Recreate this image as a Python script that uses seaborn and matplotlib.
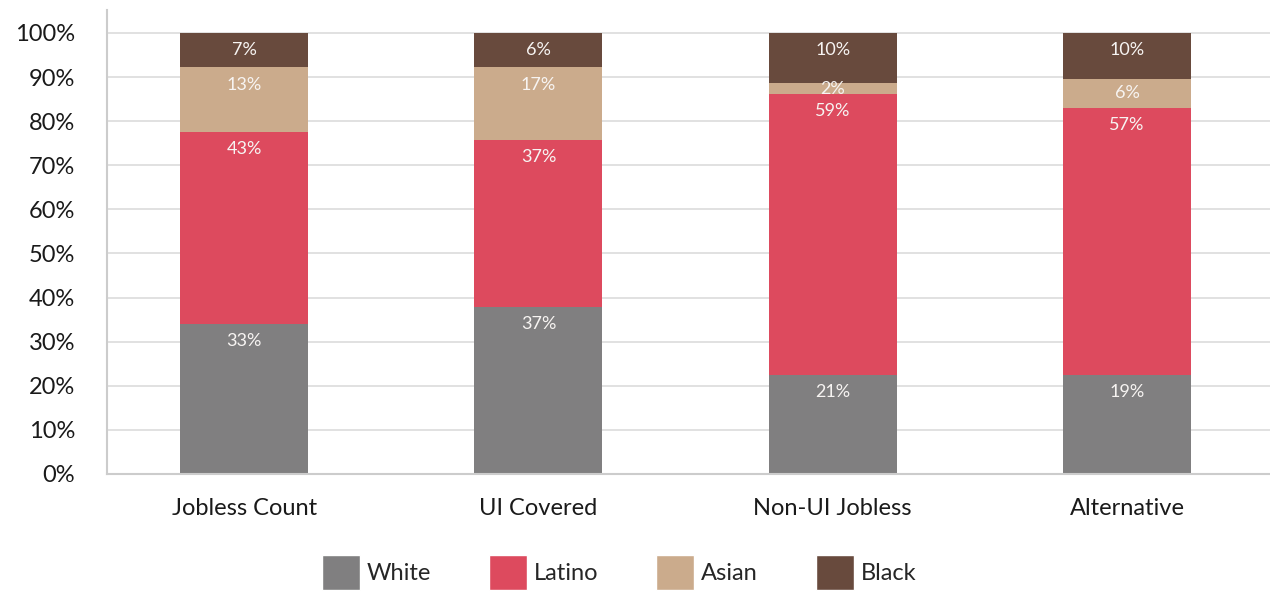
"""
Stacked share of jobless workers by race/ethnicity
"""

import pandas as pd
import matplotlib.pyplot as plt
import seaborn as sns
from matplotlib.patches import Patch

# categories and groups
categories = ['Jobless Count', 'UI Covered', 'Non-UI Jobless', 'Alternative']
groups = ['White', 'Latino', 'Asian', 'Black']

# drawn segment heights (% of bar)
white_share = [34.0, 37.8, 22.5, 22.5]
latino_share = [43.6, 37.9, 63.6, 60.5]
asian_share = [14.6, 16.5, 2.5, 6.6]
black_share = [7.8, 7.8, 11.4, 10.4]

# printed labels
white_labels = ['33%', '37%', '21%', '19%']
latino_labels = ['43%', '37%', '59%', '57%']
asian_labels = ['13%', '17%', '2%', '6%']
black_labels = ['7%', '6%', '10%', '10%']

colors = {'White': '#807f80', 'Latino': '#dd4a5e', 'Asian': '#cbab8c', 'Black': '#684a3d'}


def main():
    sns.set_style('white')
    plt.rcParams['font.family'] = ['Lato', 'DejaVu Sans']

    df = pd.DataFrame({'category': categories, 'White': white_share,
                       'Latino': latino_share, 'Asian': asian_share,
                       'Black': black_share})
    # cumulative tops, stacked White -> Black
    tops = df[groups].cumsum(axis=1)
    labels = {'White': white_labels, 'Latino': latino_labels,
              'Asian': asian_labels, 'Black': black_labels}

    fig = plt.figure(figsize=(12.7, 5.91), dpi=100)
    ax = fig.add_axes([107 / 1270, 1 - 474 / 591, 1 - 107 / 1270, 464 / 591])

    # draw from the tallest cumulative bar down so each layer shows
    for g in reversed(groups):
        sns.barplot(x=df['category'], y=tops[g], color=colors[g], width=0.435,
                    saturation=1, linewidth=0, ax=ax, zorder=2)

    # labels sit ~17px under each segment top, but never below the segment middle
    for g in groups:
        for i, top in enumerate(tops[g]):
            y = max(top - 3.9, top - df[g][i] / 2)
            ax.text(i, y, labels[g][i], ha='center', va='center',
                    color='#f7f4f2', fontsize=13)

    ax.set_ylim(0, 105.2)
    ax.set_xlim(-0.466, 3.486)
    ax.set_yticks(range(0, 101, 10))
    ax.set_yticklabels([f'{v}%' for v in range(0, 101, 10)])
    ax.set_xlabel('')
    ax.set_ylabel('')
    ax.yaxis.grid(True, color='#dcdcdc', linewidth=1.2, zorder=0)
    ax.set_axisbelow(True)
    ax.tick_params(axis='y', length=0, pad=23, labelsize=17, labelcolor='#1a1a1a')
    ax.tick_params(axis='x', length=0, pad=17, labelsize=17, labelcolor='#1a1a1a')

    for side in ['top', 'right']:
        ax.spines[side].set_visible(False)
    for side in ['left', 'bottom']:
        ax.spines[side].set_color('#cccccc')
        ax.spines[side].set_linewidth(1.5)

    # legend runs off the bottom edge, as in the original
    handles = [Patch(facecolor=colors[g], label=g) for g in groups]
    fig.legend(handles=handles, loc='upper left', bbox_to_anchor=(322 / 1270, 1 - 555 / 591),
               ncol=4, frameon=False, fontsize=17, handlelength=1.6, handleheight=1.9,
               handletextpad=0.3, columnspacing=2.45, borderpad=0, borderaxespad=0)

    fig.savefig('out.png', dpi=100)


if __name__ == "__main__":
    main()
